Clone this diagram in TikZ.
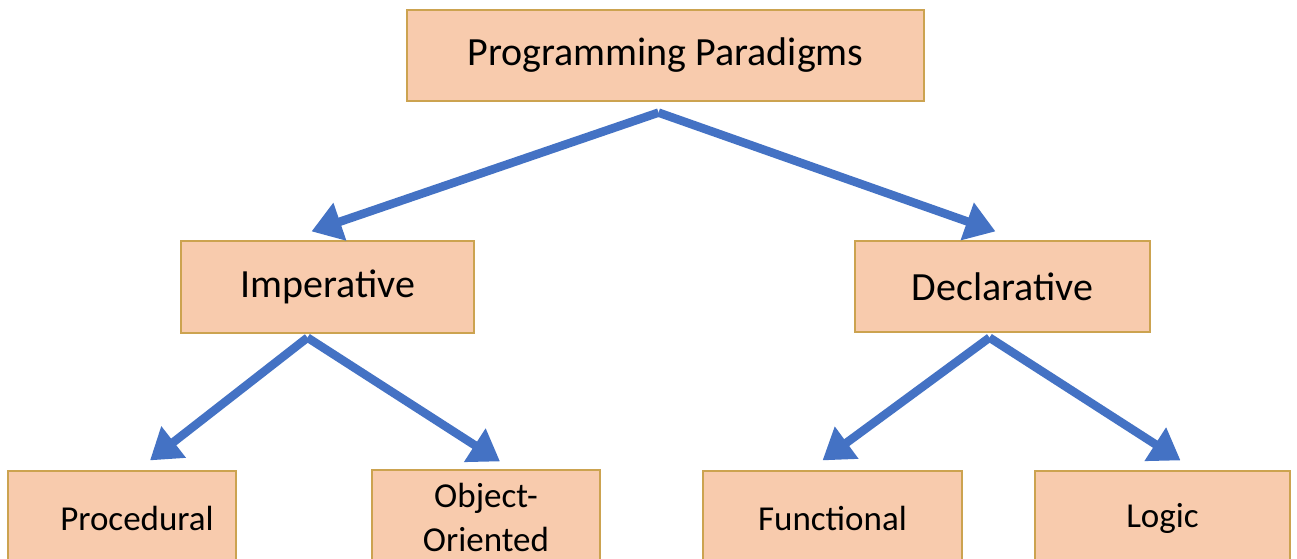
\documentclass[tikz,border=0pt]{standalone}
\usepackage{fontspec}
\setmainfont{Carlito}
\usetikzlibrary{arrows.meta,calc}
\definecolor{boxfill}{RGB}{248,203,173}
\definecolor{boxline}{RGB}{204,163,80}
\definecolor{arrowblue}{RGB}{68,114,196}
\tikzset{
  pbox/.style={draw=boxline, line width=1.2pt, fill=boxfill, rectangle, inner sep=0pt, align=center, text=black},
  bigtext/.style={font=\fontsize{40}{44}\selectfont},
  smalltext/.style={font=\fontsize{35}{44}\selectfont},
  conn/.style={draw=arrowblue, line width=8.5pt, -{Triangle[length=30pt,width=38pt]}}
}
\begin{document}
\begin{tikzpicture}[x=1pt,y=-1pt]
\clip (0,0) rectangle (1297,558);
\fill[white] (0,0) rectangle (1297,558);
\node[pbox,bigtext,minimum width=517pt,minimum height=91pt] (top) at (665.5,55.5) {Programming Paradigms};
\node[pbox,bigtext,minimum width=293pt,minimum height=92pt] (imp) at (327.5,287) {Imperative};
\node[pbox,bigtext,minimum width=295pt,minimum height=91pt] (dec) at (1002.5,286.5) {Declarative};
\node[pbox,smalltext,minimum width=228pt,minimum height=94pt] (proc) at (122,518) {\hspace*{30pt}Procedural};
\node[pbox,smalltext,minimum width=228pt,minimum height=94pt] (oo) at (486,517) {Object-\\Oriented};
\node[pbox,smalltext,minimum width=259pt,minimum height=94pt] (fun) at (832.5,518) {Functional};
\node[pbox,smalltext,minimum width=255pt,minimum height=94pt] (logic) at (1162.5,518) {Logic};
\coordinate (topS) at ($(top.south)+(-7,11)$);
\coordinate (impN) at ($(imp.north)+(-16,-9)$);
\coordinate (decN) at ($(dec.north)+(-7,-9)$);
\coordinate (impS) at ($(imp.south)+(-20,4)$);
\coordinate (decS) at ($(dec.south)+(-13,5)$);
\coordinate (procN) at ($(proc.north)+(28,-10)$);
\coordinate (ooN) at ($(oo.north)+(14,-8)$);
\coordinate (funN) at ($(fun.north)+(-10,-10)$);
\coordinate (logicN) at ($(logic.north)+(18,-10)$);
\draw[conn] (topS) -- (impN);
\draw[conn] (topS) -- (decN);
\draw[conn] (impS) -- (procN);
\draw[conn] (impS) -- (ooN);
\draw[conn] (decS) -- (funN);
\draw[conn] (decS) -- (logicN);
\end{tikzpicture}
\end{document}
